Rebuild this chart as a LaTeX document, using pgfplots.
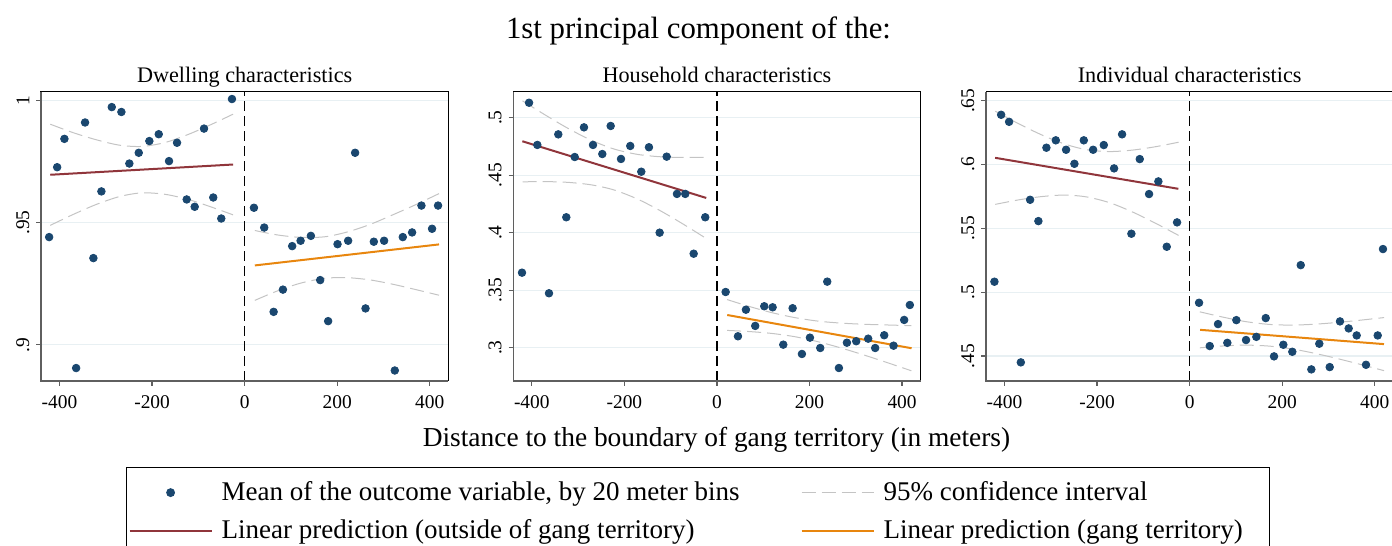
\documentclass[border=0pt]{standalone}
\usepackage{fontspec}
\setmainfont{Liberation Serif}
\usepackage{pgfplots}
\pgfplotsset{compat=1.18}

\definecolor{stnavy}{RGB}{26,71,111}
\definecolor{stmaroon}{RGB}{144,53,59}
\definecolor{storange}{RGB}{232,134,14}
\definecolor{stci}{RGB}{196,196,196}
\definecolor{stgrid}{RGB}{232,240,243}
\definecolor{staxis}{RGB}{95,95,95}

\pgfplotsset{
  panel/.style={
    scale only axis, width=203.65pt, height=144.65pt,
    anchor=south west, clip=false,
    xmin=-440, xmax=440,
    xtick={-400,-200,0,200,400},
    xticklabels={-400,-200,0,200,400},
    tick align=outside, xtick pos=bottom, ytick pos=left,
    major tick length=2.3pt,
    tick style={staxis, line width=0.6pt},
    axis line style={black, line width=0.5pt},
    ymajorgrids, grid style={stgrid, line width=0.6pt},
    tick label style={font=\fontsize{9.7}{11}\selectfont},
    xticklabel style={yshift=-1.5pt},
    yticklabel style={rotate=90, anchor=south},
    title style={at={(0.5,1)}, anchor=base, yshift=-1.2pt,
      font=\fontsize{11.1}{13}\selectfont},
  },
  dots/.style={only marks, mark=*, mark size=1.9pt, color=stnavy},
  ci/.style={stci, line width=0.5pt, dash pattern=on 7pt off 3pt, smooth},
  lout/.style={stmaroon, line width=1pt},
  lin/.style={storange, line width=1pt},
  cut/.style={black, line width=0.6pt, dash pattern=on 5pt off 2.5pt},
  dotleg/.style={only marks, mark=*, mark size=1.9pt, color=stnavy,
    legend image code/.code={\draw[##1,mark repeat=2,mark phase=2]
      plot coordinates {(0pt,0pt) (20.5pt,0pt) (41pt,0pt)};}},
  lineleg/.style={legend image code/.code={\draw[##1] (0pt,0pt) -- (41pt,0pt);}},
  lineleg2/.style={legend image code/.code={\draw[##1] (0pt,0pt) -- (36pt,0pt);}},
}

\begin{document}
\begin{tikzpicture}
\useasboundingbox (0pt,0pt) rectangle (696pt,273pt);
\clip (0pt,0pt) rectangle (696pt,273pt);

\node[anchor=base, font=\fontsize{15.4}{18}\selectfont] at (349.25pt,253.5pt)
  {1st principal component of the:};
\node[anchor=base, font=\fontsize{13.7}{16}\selectfont] at (358.25pt,49.5pt)
  {Distance to the boundary of gang territory (in meters)};

% ---- Dwelling characteristics
\begin{axis}[panel, at={(20.5pt,82.5pt)},
  title={Dwelling characteristics},
  ymin=0.8852, ymax=1.0036,
  ytick={0.9,0.95,1}, yticklabels={.9,.95,1},
  legend columns=2, legend cell align=left,
  legend style={at={(0.2087,-0.2973)}, anchor=north west,
    draw=black, line width=0.6pt,
    font=\fontsize{13.5}{16}\selectfont,
    inner xsep=1pt, inner ysep=5pt, row sep=4pt,
    /tikz/every odd column/.append style={column sep=2.5pt},
    /tikz/every even column/.append style={column sep=0pt}},
]
\addplot[ci, forget plot] coordinates {(-420,0.9903) (-370,0.9868) (-320,0.9839) (-270,0.9817) (-222,0.9812) (-172,0.9828) (-122,0.9861) (-72,0.9902) (-25,0.9944)};
\addplot[ci, forget plot] coordinates {(-420,0.9489) (-370,0.9534) (-320,0.9575) (-270,0.9607) (-222,0.9622) (-172,0.9616) (-122,0.9595) (-72,0.9564) (-25,0.9532)};
\addplot[ci, forget plot] coordinates {(22,0.9468) (70,0.9450) (120,0.9440) (172,0.9442) (220,0.9461) (270,0.9492) (320,0.9532) (370,0.9574) (420,0.9619)};
\addplot[ci, forget plot] coordinates {(22,0.9182) (70,0.9220) (120,0.9252) (172,0.9272) (220,0.9275) (270,0.9266) (320,0.9248) (370,0.9226) (420,0.9203)};
\addplot[lout, forget plot] coordinates {(-420,0.9696) (-25,0.9738)};
\addplot[lin, forget plot] coordinates {(22,0.9325) (420,0.9411)};
\addplot[cut, forget plot] coordinates {(0,0.8852) (0,1.0036)};
\addplot[dots, forget plot] coordinates {
  (-422.4,0.9441) (-405.1,0.9727) (-389.4,0.9843) (-364.1,0.8905) (-344.8,0.9910)
  (-326.8,0.9355) (-309.5,0.9628) (-287.1,0.9973) (-266.3,0.9953) (-249.1,0.9742)
  (-228.8,0.9786) (-205.9,0.9834) (-185.6,0.9862) (-163.4,0.9752) (-146.1,0.9827)
  (-125.2,0.9595) (-107.9,0.9565) (-87.8,0.9885) (-67.8,0.9603) (-50.5,0.9517)
  (-27.4,1.0006)
  (20.1,0.9561) (42.3,0.9480) (62.6,0.9135) (82.7,0.9226) (102.7,0.9404)
  (120.9,0.9426) (143.1,0.9446) (163.2,0.9265) (180.4,0.9097) (200.7,0.9412)
  (223.6,0.9426) (238.7,0.9786) (261.2,0.9149) (279.1,0.9422) (301.3,0.9426)
  (324.4,0.8895) (341.7,0.9441) (361.8,0.9460) (382.0,0.9570) (404.9,0.9475)
  (417.9,0.9570)};
\draw[staxis, line width=0.8pt] (rel axis cs:0,1) -- (rel axis cs:0,0) -- (rel axis cs:1,0);
\addlegendimage{dotleg}
\addlegendentry{\makebox[287.5pt][l]{Mean of the outcome variable, by 20 meter bins}}
\addlegendimage{ci, lineleg2}
\addlegendentry{\makebox[190pt][l]{95\% confidence interval}}
\addlegendimage{lout, lineleg}
\addlegendentry{\makebox[287.5pt][l]{Linear prediction (outside of gang territory)}}
\addlegendimage{lin, lineleg2}
\addlegendentry{\makebox[190pt][l]{Linear prediction (gang territory)}}
\end{axis}

% ---- Household characteristics
\begin{axis}[panel, at={(256.65pt,82.5pt)},
  title={Household characteristics},
  ymin=0.2710, ymax=0.5226,
  ytick={0.3,0.35,0.4,0.45,0.5}, yticklabels={.3,.35,.4,.45,.5},
]
\addplot[ci] coordinates {(-420,0.5146) (-370,0.5021) (-320,0.4903) (-270,0.4801) (-222,0.4727) (-172,0.4681) (-122,0.4660) (-72,0.4654) (-23,0.4655)};
\addplot[ci] coordinates {(-420,0.4442) (-370,0.4444) (-320,0.4437) (-270,0.4415) (-222,0.4371) (-172,0.4293) (-122,0.4190) (-72,0.4072) (-23,0.3949)};
\addplot[ci] coordinates {(22,0.3418) (70,0.3358) (120,0.3303) (170,0.3260) (220,0.3230) (270,0.3213) (320,0.3203) (370,0.3197) (420,0.3191)};
\addplot[ci] coordinates {(22,0.3150) (70,0.3140) (120,0.3123) (170,0.3094) (220,0.3050) (270,0.2995) (320,0.2933) (370,0.2867) (420,0.2799)};
\addplot[lout] coordinates {(-420.5,0.4795) (-23.1,0.4302)};
\addplot[lin] coordinates {(22.2,0.3284) (420.5,0.2995)};
\addplot[cut] coordinates {(0,0.2710) (0,0.5226)};
\addplot[dots] coordinates {
  (-421.2,0.3652) (-406.0,0.5130) (-388.1,0.4763) (-362.9,0.3473) (-342.8,0.4855)
  (-325.5,0.4134) (-307.3,0.4658) (-287.3,0.4916) (-267.8,0.4763) (-247.7,0.4684)
  (-229.6,0.4928) (-207.3,0.4641) (-187.3,0.4754) (-163.5,0.4530) (-146.9,0.4743)
  (-123.8,0.4000) (-108.6,0.4661) (-86.4,0.4337) (-68.5,0.4337) (-50.3,0.3817)
  (-25.3,0.4134)
  (18.8,0.3484) (45.4,0.3099) (62.6,0.3330) (82.7,0.3189) (102.2,0.3360)
  (120.3,0.3351) (143.3,0.3026) (163.5,0.3343) (183.6,0.2945) (200.9,0.3087)
  (223.2,0.2997) (238.3,0.3574) (263.5,0.2823) (280.8,0.3043) (300.9,0.3056)
  (326.8,0.3078) (341.9,0.2997) (361.4,0.3108) (381.6,0.3017) (404.5,0.3241)
  (416.8,0.3371)};
\draw[staxis, line width=0.8pt] (rel axis cs:0,1) -- (rel axis cs:0,0) -- (rel axis cs:1,0);
\end{axis}

% ---- Individual characteristics
\begin{axis}[panel, at={(493pt,82.5pt)},
  title={Individual characteristics},
  ymin=0.4304, ymax=0.6571,
  ytick={0.45,0.5,0.55,0.6,0.65}, yticklabels={.45,.5,.55,.6,.65},
]
\addplot[ci] coordinates {(-420,0.6418) (-370,0.6321) (-320,0.6233) (-270,0.6161) (-222,0.6116) (-172,0.6102) (-122,0.6114) (-72,0.6141) (-24,0.6175)};
\addplot[ci] coordinates {(-420,0.5688) (-370,0.5723) (-320,0.5749) (-270,0.5761) (-222,0.5746) (-172,0.5700) (-122,0.5626) (-72,0.5537) (-24,0.5445)};
\addplot[ci] coordinates {(22,0.4846) (70,0.4806) (120,0.4770) (170,0.4748) (220,0.4742) (270,0.4749) (320,0.4763) (370,0.4781) (420,0.4801)};
\addplot[ci] coordinates {(22,0.4564) (70,0.4578) (120,0.4585) (170,0.4578) (220,0.4556) (270,0.4521) (320,0.4479) (370,0.4433) (420,0.4385)};
\addplot[lout] coordinates {(-420.3,0.6053) (-24.4,0.5810)};
\addplot[lin] coordinates {(22.5,0.4705) (419.9,0.4593)};
\addplot[cut] coordinates {(0,0.4304) (0,0.6571)};
\addplot[dots] coordinates {
  (-421.8,0.5082) (-407.3,0.6390) (-390.1,0.6335) (-364.8,0.4450) (-344.7,0.5724)
  (-326.8,0.5557) (-309.5,0.6132) (-289.2,0.6190) (-267.0,0.6116) (-249.0,0.6006)
  (-228.7,0.6190) (-208.6,0.6116) (-185.5,0.6153) (-163.3,0.5970) (-146.0,0.6237)
  (-125.9,0.5458) (-107.8,0.6043) (-87.7,0.5769) (-67.6,0.5868) (-49.5,0.5356)
  (-27.2,0.5547)
  (20.3,0.4917) (43.4,0.4578) (61.3,0.4750) (81.4,0.4603) (100.9,0.4781)
  (121.8,0.4625) (144.1,0.4650) (164.4,0.4797) (182.3,0.4497) (202.4,0.4588)
  (221.8,0.4533) (240.0,0.5212) (262.9,0.4395) (280.1,0.4596) (302.6,0.4413)
  (324.8,0.4771) (343.6,0.4716) (360.9,0.4661) (381.0,0.4431) (406.3,0.4661)
  (417.7,0.5338)};
\draw[staxis, line width=0.8pt] (rel axis cs:0,1) -- (rel axis cs:0,0) -- (rel axis cs:1,0);
\end{axis}
\end{tikzpicture}
\end{document}
